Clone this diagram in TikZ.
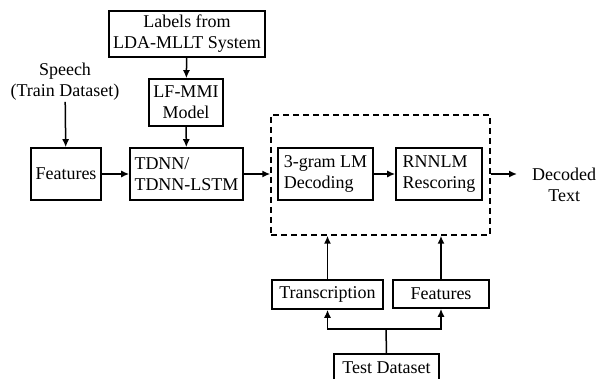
\documentclass[tikz,border=0pt]{standalone}
\usepackage{fontspec}
\setmainfont{Liberation Serif}
\usetikzlibrary{arrows.meta}
\begin{document}
\begin{tikzpicture}[x=1pt,y=-1pt,
  every node/.style={font=\fontsize{18}{21}\selectfont},
  box/.style={draw, line width=1.6pt, inner sep=0pt, align=left},
  arr/.style={line width=1.5pt, -{Latex[length=8pt,width=7pt]}},
  ln/.style={line width=1.5pt}]
\useasboundingbox (0,0) rectangle (598,379);
\node[box, minimum width=156, minimum height=46, align=center] (lab) at (187,34) {Labels from\\LDA-MLLT System};
\node[box, minimum width=74, minimum height=47, align=center] (lf) at (186,102.5) {LF-MMI\\Model};
\node[align=center, inner sep=1pt] (sp) at (65,82) {Speech\\(Train Dataset)};
\node[box, minimum width=70, minimum height=52] (feat) at (66,174) {Features};
\node[box, minimum width=113, minimum height=52] (tdnn) at (186.5,174) {TDNN/\\TDNN-LSTM};
\node[draw, dash pattern=on 6pt off 4pt, line width=1.5pt, minimum width=219, minimum height=120, inner sep=0pt] (dbox) at (380.5,175) {};
\node[box, minimum width=95, minimum height=52] (lm) at (325.5,174) {3-gram LM\\Decoding};
\node[box, minimum width=86, minimum height=52] (rnn) at (439,174) {RNNLM\\Rescoring};
\node[align=center, inner sep=0pt, anchor=west] (dec) at (532,184.5) {Decoded\\Text};
\node[box, minimum width=111, minimum height=29] (tr) at (327.5,294.5) {Transcription};
\node[box, minimum width=96, minimum height=28] (f2) at (441,294) {Features};
\node[box, minimum width=105, minimum height=28] (td) at (386.5,368) {Test Dataset};
\coordinate (jn) at (386,329);
\coordinate (outend) at (517,174);
\draw[arr] (lab) -- (lf);
\draw[arr] (lf) -- (tdnn);
\draw[arr] (sp) -- (feat);
\draw[arr] (feat) -- (tdnn);
\draw[arr] (tdnn.east) -- (tdnn.east -| dbox.west);
\draw[arr] (lm) -- (rnn);
\draw[arr] (dbox.east |- outend) -- (outend);
\draw[ln] (td.north) -- (jn);
\draw[arr] (jn) -| (tr.south);
\draw[arr] (jn) -| (f2.south);
\draw[arr] (tr.north) -- (tr.north |- dbox.south);
\draw[arr] (f2.north) -- (f2.north |- dbox.south);
\end{tikzpicture}
\end{document}
